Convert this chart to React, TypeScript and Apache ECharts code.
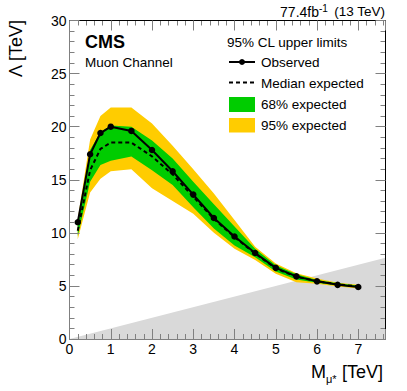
import React, { useEffect, useRef } from "react";
import * as echarts from "echarts";

// Mass points (TeV)
const massPoints = [0.2, 0.5, 0.75, 1.0, 1.5, 2.0, 2.5, 3.0, 3.5, 4.0, 4.5, 5.0, 5.5, 6.0, 6.5, 7.0];
// Observed limit on Lambda (TeV)
const observed = [11.0, 17.4, 19.4, 20.0, 19.6, 17.8, 15.8, 13.6, 11.4, 9.65, 8.1, 6.7, 5.9, 5.43, 5.1, 4.9];
// Median expected
const expected = [10.2, 15.9, 17.9, 18.5, 18.5, 17.2, 15.5, 13.4, 11.3, 9.6, 8.05, 6.65, 5.85, 5.45, 5.15, 4.95];
// 68% band
const band68Hi = [10.8, 17.8, 19.5, 20.1, 20.0, 18.7, 17.0, 14.8, 12.7, 10.6, 8.5, 6.95, 6.1, 5.55, 5.25, 5.05];
const band68Lo = [9.7, 14.8, 16.4, 16.8, 17.2, 15.9, 14.5, 12.4, 10.4, 8.8, 7.7, 6.35, 5.6, 5.3, 5.05, 4.85];
// 95% band
const band95Hi = [11.3, 18.8, 21.0, 21.8, 21.8, 20.3, 18.2, 16.0, 13.7, 11.2, 8.7, 7.1, 6.2, 5.7, 5.3, 5.1];
const band95Lo = [9.4, 13.8, 15.1, 15.8, 16.0, 14.2, 13.0, 11.8, 10.0, 8.5, 7.45, 6.15, 5.35, 5.2, 4.95, 4.75];
// Excluded region Lambda < M (kinematic limit)
const limitM = [0, 7.66, 7.66];
const limitLambda = [0, 7.66, 0];

const xMin = 0;
const xMax = 7.66;
const yMin = 0;
const yMax = 30;
const xTickLabels = ["0", "1", "2", "3", "4", "5", "6", "7"];

const FONT = "'Liberation Sans', Arial, Helvetica, sans-serif";
const GREEN = "#00cc00";
const YELLOW = "#ffcc00";
const GREY_FILL = "#d9d9d9";
const AXIS_GREY = "#808080";

export default function App() {
  const ref = useRef<HTMLDivElement>(null);

  useEffect(() => {
    if (!ref.current) return;
    const chart = echarts.init(ref.current, undefined, { renderer: "svg" });

    const gridPos = { left: 69.5, right: 21.5, top: 20.5, bottom: 52, containLabel: false };

    const bandSeries = (hi: number[], lo: number[], color: string, name: string) => ({
      type: "custom",
      name,
      xAxisIndex: 0,
      yAxisIndex: 0,
      silent: true,
      clip: true,
      z: 2,
      data: [[massPoints[0], hi[0]]],
      renderItem: (_params: any, api: any) => {
        const pts: number[][] = [];
        for (let i = 0; i < massPoints.length; i++) pts.push(api.coord([massPoints[i], hi[i]]));
        for (let i = massPoints.length - 1; i >= 0; i--) pts.push(api.coord([massPoints[i], lo[i]]));
        return { type: "polygon", shape: { points: pts }, style: { fill: color, stroke: null } };
      },
    });

    const majorX = (position: string, showLabel: boolean, lineColor: string, gridIndex: number) => ({
      type: "value",
      gridIndex,
      position,
      min: xMin,
      max: xMax,
      interval: 1,
      z: 10,
      axisLine: { show: true, onZero: false, lineStyle: { color: lineColor, width: 1 } },
      axisTick: { show: true, inside: true, length: 10, lineStyle: { color: AXIS_GREY, width: 1 } },
      splitLine: { show: false },
      axisLabel: {
        show: showLabel,
        margin: 3,
        color: "#000",
        fontSize: 14,
        fontFamily: FONT,
        formatter: (v: number) => {
          const idx = Math.round(v);
          return Math.abs(v - idx) < 1e-6 && idx < xTickLabels.length ? xTickLabels[idx] : "";
        },
      },
    });
    const minorX = (position: string, gridIndex: number) => ({
      type: "value",
      gridIndex,
      position,
      min: xMin,
      max: xMax,
      interval: 0.2,
      z: 9,
      axisLine: { show: false, onZero: false },
      axisTick: { show: true, inside: true, length: 5, lineStyle: { color: AXIS_GREY, width: 1 } },
      splitLine: { show: false },
      axisLabel: { show: false },
    });
    const majorY = (position: string, showLabel: boolean, lineColor: string, gridIndex: number) => ({
      type: "value",
      gridIndex,
      position,
      min: yMin,
      max: yMax,
      interval: 5,
      z: 10,
      axisLine: { show: true, onZero: false, lineStyle: { color: lineColor, width: 1 } },
      axisTick: { show: true, inside: true, length: 10, lineStyle: { color: AXIS_GREY, width: 1 } },
      splitLine: { show: false },
      axisLabel: { show: showLabel, margin: 3, color: "#000", fontSize: 14, fontFamily: FONT },
    });
    const minorY = (position: string, gridIndex: number) => ({
      type: "value",
      gridIndex,
      position,
      min: yMin,
      max: yMax,
      interval: 1,
      z: 9,
      axisLine: { show: false, onZero: false },
      axisTick: { show: true, inside: true, length: 5, lineStyle: { color: AXIS_GREY, width: 1 } },
      splitLine: { show: false },
      axisLabel: { show: false },
    });

    const legX = 229;
    const legTextX = 261;
    const textStyle = (extra: any) => ({ fontFamily: FONT, fill: "#000", ...extra });

    chart.setOption({
      animation: false,
      backgroundColor: "#fff",
      grid: [gridPos, gridPos],
      xAxis: [
        majorX("bottom", true, AXIS_GREY, 0),
        majorX("top", false, "#000", 0),
        minorX("bottom", 1),
        minorX("top", 1),
      ],
      yAxis: [
        majorY("left", true, AXIS_GREY, 0),
        majorY("right", false, "#000", 0),
        minorY("left", 1),
        minorY("right", 1),
      ],
      series: [
        {
          type: "custom",
          name: "Excluded",
          xAxisIndex: 0,
          yAxisIndex: 0,
          silent: true,
          z: 1,
          data: [[limitM[0], limitLambda[0]]],
          renderItem: (_params: any, api: any) => {
            const pts = limitM.map((m, i) => api.coord([m, limitLambda[i]]));
            return { type: "polygon", shape: { points: pts }, style: { fill: GREY_FILL, stroke: null } };
          },
        },
        bandSeries(band95Hi, band95Lo, YELLOW, "95% expected"),
        bandSeries(band68Hi, band68Lo, GREEN, "68% expected"),
        {
          type: "line",
          name: "Median expected",
          xAxisIndex: 0,
          yAxisIndex: 0,
          z: 3,
          data: massPoints.map((m, i) => [m, expected[i]]),
          showSymbol: false,
          symbol: "none",
          lineStyle: { color: "#000", width: 2, type: [4, 3] },
        },
        {
          type: "line",
          name: "Observed",
          xAxisIndex: 0,
          yAxisIndex: 0,
          z: 4,
          data: massPoints.map((m, i) => [m, observed[i]]),
          symbol: "circle",
          symbolSize: 6.5,
          itemStyle: { color: "#000" },
          lineStyle: { color: "#000", width: 2 },
        },
      ],
      graphic: [
        // Top-right luminosity label
        { type: "text", x: 385, y: 11.5, style: textStyle({ text: "(13 TeV)", fontSize: 13.5, align: "right", verticalAlign: "middle" }) },
        { type: "text", x: 319, y: 8, style: textStyle({ text: "-1", fontSize: 10, align: "left", verticalAlign: "middle" }) },
        { type: "text", x: 319, y: 11.5, style: textStyle({ text: "77.4fb", fontSize: 14, align: "right", verticalAlign: "middle" }) },
        // CMS label
        { type: "text", x: 85, y: 42, style: textStyle({ text: "CMS", fontSize: 18, fontWeight: "bold", align: "left", verticalAlign: "middle" }) },
        { type: "text", x: 85, y: 62.5, style: textStyle({ text: "Muon Channel", fontSize: 13.5, align: "left", verticalAlign: "middle" }) },
        // Legend
        { type: "text", x: 227, y: 42, style: textStyle({ text: "95% CL upper limits", fontSize: 13.5, align: "left", verticalAlign: "middle" }) },
        { type: "line", shape: { x1: legX, y1: 62, x2: legX + 26, y2: 62 }, style: { stroke: "#000", lineWidth: 2 } },
        { type: "circle", shape: { cx: legX + 13, cy: 62, r: 3 }, style: { fill: "#000" } },
        { type: "text", x: legTextX, y: 62.5, style: textStyle({ text: "Observed", fontSize: 13.5, align: "left", verticalAlign: "middle" }) },
        { type: "line", shape: { x1: legX, y1: 82.5, x2: legX + 26, y2: 82.5 }, style: { stroke: "#000", lineWidth: 2, lineDash: [4, 3] } },
        { type: "text", x: legTextX, y: 83, style: textStyle({ text: "Median expected", fontSize: 13.5, align: "left", verticalAlign: "middle" }) },
        { type: "rect", shape: { x: legX, y: 97, width: 26, height: 15 }, style: { fill: GREEN } },
        { type: "text", x: legTextX, y: 104.5, style: textStyle({ text: "68% expected", fontSize: 13.5, align: "left", verticalAlign: "middle" }) },
        { type: "rect", shape: { x: legX, y: 118, width: 26, height: 14.5 }, style: { fill: YELLOW } },
        { type: "text", x: legTextX, y: 125.5, style: textStyle({ text: "95% expected", fontSize: 13.5, align: "left", verticalAlign: "middle" }) },
        // Axis titles
        { type: "text", x: 15.5, y: 20, rotation: Math.PI / 2, style: textStyle({ text: "Λ [TeV]", fontSize: 18, align: "right", verticalAlign: "middle" }) },
        { type: "text", x: 383, y: 372, style: textStyle({ text: "[TeV]", fontSize: 18, align: "right", verticalAlign: "middle" }) },
        { type: "text", x: 326, y: 378.5, style: textStyle({ text: "μ*", fontSize: 11, align: "left", verticalAlign: "middle" }) },
        { type: "text", x: 326, y: 372, style: textStyle({ text: "M", fontSize: 18, align: "right", verticalAlign: "middle" }) },
      ],
    });

    return () => chart.dispose();
  }, []);

  return (
    <div
      ref={ref}
      style={{ position: "fixed", left: 0, top: 0, width: 407, height: 391, background: "#fff" }}
    />
  );
}
